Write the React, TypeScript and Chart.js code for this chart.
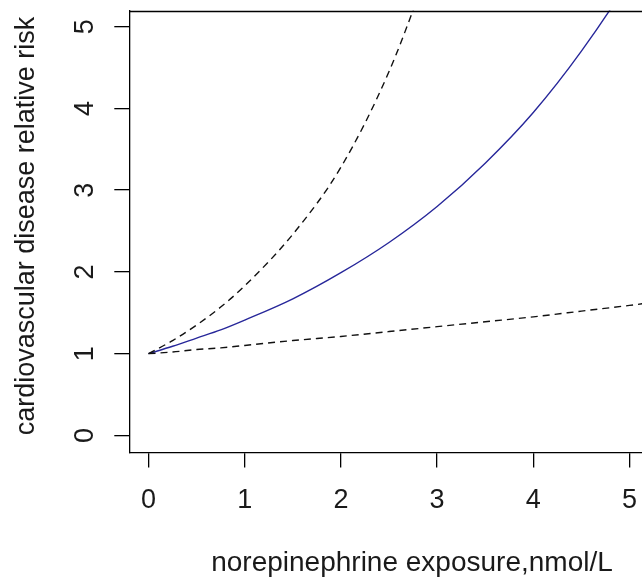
import React, { useEffect, useRef } from 'react';
import { Chart, registerables } from 'chart.js';

Chart.register(...registerables);

// Data
const exposure = [0, 0.25, 0.5, 0.75, 1, 1.5, 2, 2.5, 3, 3.5, 4, 4.5, 5, 5.2];
const rrEstimate = [1.0, 1.09, 1.19, 1.29, 1.41, 1.67, 1.99, 2.36, 2.8, 3.33, 3.95, 4.7, 5.58, 6.0];
const rrUpper = [1.0, 1.16, 1.35, 1.57, 1.83, 2.46, 3.28, 4.45, 6.0, null, null, null, null, null];
const rrLower = [1.0, 1.02, 1.05, 1.07, 1.1, 1.16, 1.21, 1.27, 1.33, 1.39, 1.45, 1.52, 1.59, 1.62];
const xTickValues = [0, 1, 2, 3, 4, 5];
const yTickValues = [0, 1, 2, 3, 4, 5];
const xTitle = 'norepinephrine exposure,nmol/L';
const yTitle = 'cardiovascular disease relative risk';

const FONT = "'Liberation Sans', Arial, Helvetica, sans-serif";
const INK = '#1a1a1a';

const toPoints = (ys: (number | null)[]) =>
  exposure.map((x, i) => ({ x, y: ys[i] })).filter((p) => p.y !== null);

const frameAndTitles = {
  id: 'frameAndTitles',
  afterDraw(chart: any) {
    const { ctx, chartArea } = chart;
    ctx.save();
    ctx.strokeStyle = '#000';
    ctx.lineWidth = 1.3;
    ctx.beginPath();
    ctx.moveTo(chartArea.left, Math.round(chartArea.top) + 0.5);
    ctx.lineTo(chartArea.right, Math.round(chartArea.top) + 0.5);
    ctx.stroke();
    ctx.fillStyle = INK;
    ctx.font = `28px ${FONT}`;
    ctx.textAlign = 'center';
    ctx.textBaseline = 'middle';
    // x axis title
    ctx.fillText(xTitle, 412, 563);
    // y axis title
    ctx.translate(27, 226);
    ctx.rotate(-Math.PI / 2);
    ctx.font = `27px ${FONT}`;
    ctx.fillText(yTitle, 0, 0);
    ctx.restore();
  },
};

export default function App() {
  const canvasRef = useRef<HTMLCanvasElement | null>(null);

  useEffect(() => {
    if (!canvasRef.current) return;
    const dashed = {
      borderColor: '#111',
      borderWidth: 1.4,
      borderDash: [7, 5],
      pointRadius: 0,
      cubicInterpolationMode: 'monotone' as const,
    };
    const chart = new Chart(canvasRef.current, {
      type: 'line',
      data: {
        datasets: [
          { label: 'upper', data: toPoints(rrUpper) as any, ...dashed },
          { label: 'lower', data: toPoints(rrLower) as any, ...dashed },
          {
            label: 'estimate',
            data: toPoints(rrEstimate) as any,
            borderColor: '#27279a',
            borderWidth: 1.4,
            pointRadius: 0,
            cubicInterpolationMode: 'monotone',
          },
        ],
      },
      options: {
        responsive: false,
        animation: false,
        devicePixelRatio: 1,
        layout: { padding: { top: 10.6, left: 0, right: 0, bottom: 0 } },
        plugins: { legend: { display: false }, tooltip: { enabled: false } },
        scales: {
          x: {
            type: 'linear',
            min: -0.2,
            max: 5.13,
            afterBuildTicks: (s: any) => {
              s.ticks = xTickValues.map((v) => ({ value: v }));
            },
            afterFit: (s: any) => {
              s.height = 124.6;
              s.paddingLeft = 0;
              s.paddingRight = 0;
            },
            grid: {
              display: true,
              drawOnChartArea: false,
              drawTicks: true,
              tickLength: 15,
              color: '#000',
              lineWidth: 1.3,
            },
            border: { display: true, color: '#000', width: 1.3 },
            ticks: {
              autoSkip: false,
              maxRotation: 0,
              minRotation: 0,
              padding: 17,
              color: INK,
              font: { family: FONT, size: 27 },
            },
            title: { display: false, text: xTitle },
          },
          y: {
            type: 'linear',
            min: -0.208,
            max: 5.196,
            afterBuildTicks: (s: any) => {
              s.ticks = yTickValues.map((v) => ({ value: v }));
            },
            afterFit: (s: any) => {
              s.width = 129.3;
              s.paddingTop = 0;
              s.paddingBottom = 0;
            },
            grid: {
              display: true,
              drawOnChartArea: false,
              drawTicks: true,
              tickLength: 15,
              color: '#000',
              lineWidth: 1.3,
            },
            border: { display: true, color: '#000', width: 1.3 },
            ticks: {
              autoSkip: false,
              minRotation: 90,
              maxRotation: 90,
              crossAlign: 'center',
              padding: 21,
              color: INK,
              font: { family: FONT, size: 27 },
            },
            title: { display: false, text: yTitle },
          },
        },
      },
      plugins: [frameAndTitles],
    });
    return () => chart.destroy();
  }, []);

  return (
    <div style={{ position: 'fixed', left: 0, top: 0, width: 642, height: 577, background: '#fff' }}>
      <canvas ref={canvasRef} width={642} height={577} style={{ display: 'block' }} />
    </div>
  );
}
